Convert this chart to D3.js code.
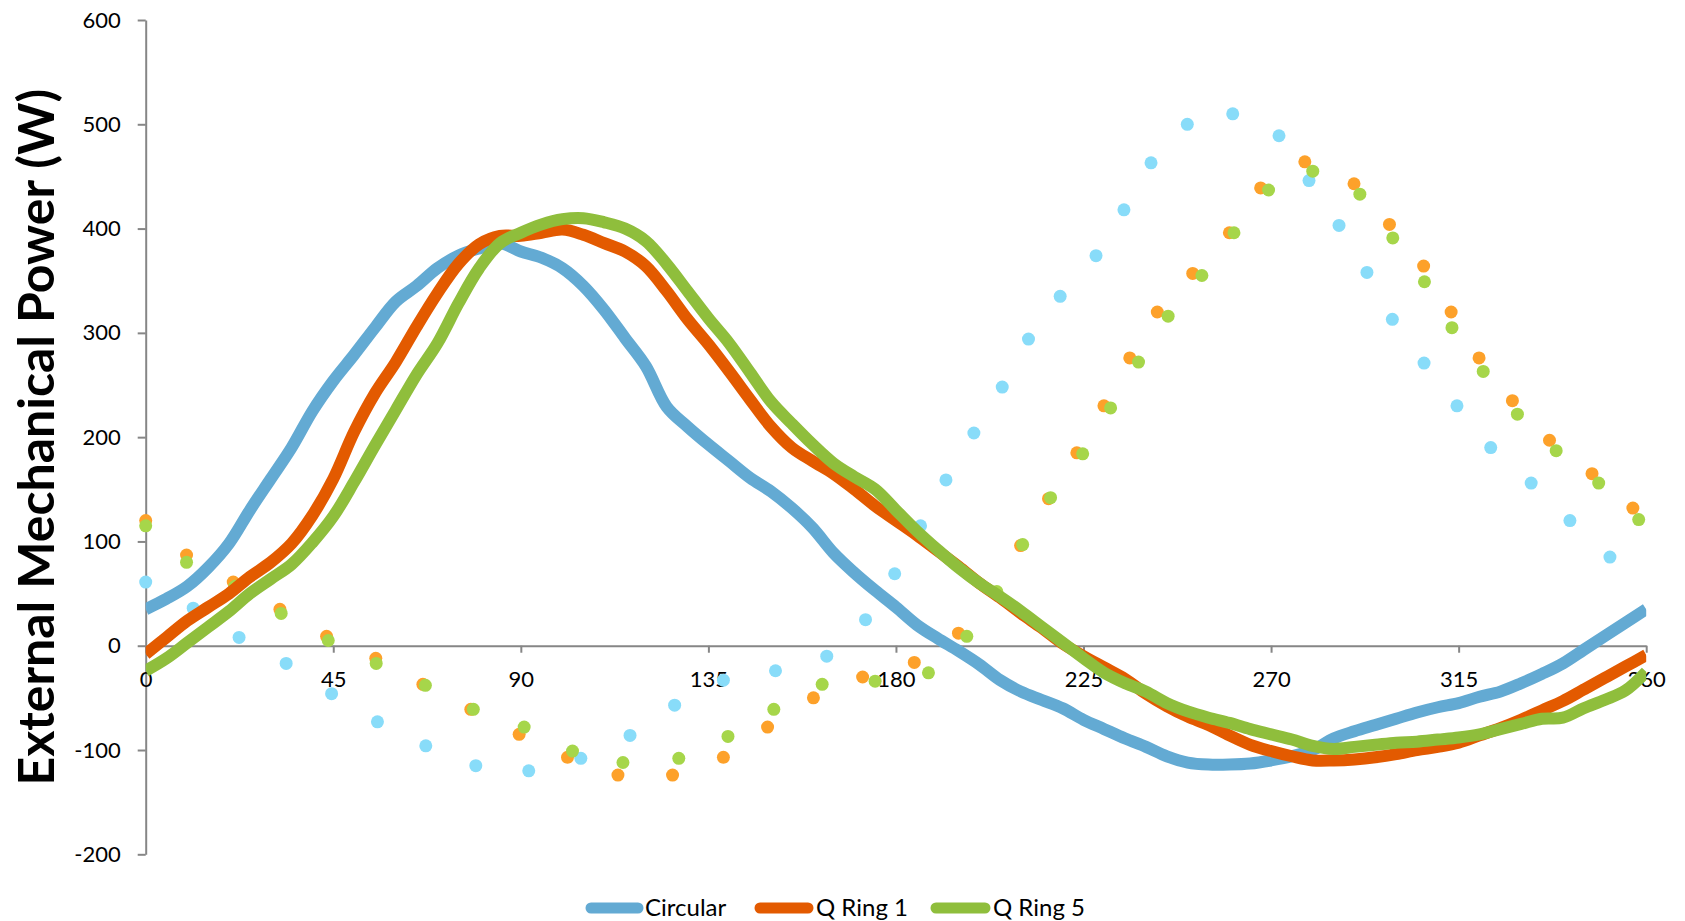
<!DOCTYPE html>
<html>
<head>
<meta charset="utf-8">
<script src="https://cdn.jsdelivr.net/npm/d3@7"></script>
<style>
  html, body { margin: 0; padding: 0; background: #fff; }
  svg { display: block; }
  text { font-family: Lato, "Noto Sans", sans-serif; fill: #000; }
</style>
</head>
<body>
<svg id="chart" width="1685" height="921"></svg>
<script>
// ---------- DATA ----------
const xTicks = [0, 45, 90, 135, 180, 225, 270, 315, 360];
const yTicks = [-200, -100, 0, 100, 200, 300, 400, 500, 600];

const lineAngles = [0,5,10,15,20,25,30,35,40,45,50,55,60,65,70,75,80,85,90,95,100,105,110,115,120,125,130,135,140,145,150,155,160,165,170,175,180,185,190,195,200,205,210,215,220,225,230,235,240,245,250,255,260,265,270,275,280,285,290,295,300,305,310,315,320,325,330,335,340,345,350,355,360];

const circular = [35,45,57,75,98,130,160,190,225,254,279,305,330,345,362,374,381,386,378,372,362,345,322,295,268,229,210,193,177,161,148,132,113,89,70,53,37,20,7,-5,-18,-33,-44,-52,-60,-71,-80,-89,-97,-106,-112,-114,-114,-113,-110,-106,-100,-89,-82,-76,-70,-64,-59,-55,-49,-44,-36,-27,-17,-4,9,22,35];

const qRing1 = [-8,8,24,37,50,66,80,98,125,160,205,242,272,306,338,366,385,393,393,396,399,394,386,378,364,340,313,289,263,236,210,190,177,165,150,134,120,106,91,76,60,46,31,17,2,-10,-21,-32,-46,-58,-68,-76,-86,-95,-101,-106,-110,-110,-109,-107,-104,-100,-97,-93,-86,-79,-71,-62,-53,-42,-31,-20,-9];

const qRing5 = [-24,-12,3,18,33,50,64,78,99,124,157,192,226,260,290,328,362,386,396,404,409,410,406,400,388,366,340,314,290,262,234,213,193,175,162,150,130,110,92,75,60,47,33,18,3,-12,-26,-36,-44,-55,-63,-69,-74,-80,-85,-90,-96,-99,-97,-95,-93,-92,-90,-88,-85,-80,-75,-70,-69,-60,-52,-43,-25];

// dotted (unlabelled) series
const circDotAngles = [0,11.4,22.4,33.7,44.6,55.6,67.2,79.2,91.9,104.4,116.2,126.9,138.6,151.1,163.4,172.7,179.7,185.9,192,198.7,205.5,211.8,219.4,228,234.7,241.2,249.9,260.8,271.9,279.1,286.3,293,299.1,306.7,314.6,322.7,332.4,341.7,351.3];
const circDotValues = [61,36,8,-17,-46,-73,-96,-115,-120,-108,-86,-57,-33,-24,-10,25,69,115,159,204,248,294,335,374,418,463,500,510,489,446,403,358,313,271,230,190,156,120,85];

const q1DotAngles = [0,9.8,21,32.2,43.4,55.2,66.5,78,89.6,101.2,113.3,126.4,138.6,149.2,160.2,172,184.4,195,209.9,216.6,223.4,229.9,236.1,242.7,251.2,260,267.5,278.1,289.9,298.4,306.6,313.2,319.9,327.9,336.8,347,356.8];
const q1DotValues = [120,87,61,35,9,-12,-37,-61,-85,-107,-124,-124,-107,-78,-50,-30,-16,12,96,141,185,230,276,320,357,396,439,464,443,404,364,320,276,235,197,165,132];

const q5DotAngles = [0,9.8,21.4,32.5,43.8,55.3,67.1,78.6,90.8,102.4,114.5,127.9,139.7,150.7,162.3,175,187.8,197,204.2,210.4,217.1,224.8,231.5,238.2,245.3,253.4,261.1,269.4,280,291.3,299.2,306.8,313.4,320.9,329.1,338.4,348.6,358.2];
const q5DotValues = [115,80,57,31,5,-17,-38,-61,-78,-101,-112,-108,-87,-61,-37,-34,-26,9,52,97,142,184,228,272,316,355,396,437,455,433,391,349,305,263,222,187,156,121];

const seriesNames = ["Circular", "Q Ring 1", "Q Ring 5"];

// ---------- LAYOUT ----------
const lineColors = ["#63AAD3", "#E35A00", "#8FBE3C"];
const dotColors = ["#88DCF9", "#FDA12A", "#A6D64A"];

const svg = d3.select("#chart");
const x = d3.scaleLinear().domain([0, 360]).range([145.7, 1646.2]);
const y = d3.scaleLinear().domain([-200, 600]).range([854.3, 20]);

svg.append("defs").append("clipPath").attr("id", "plotclip")
  .append("rect")
  .attr("x", x(0)).attr("y", 0)
  .attr("width", x(360) - x(0)).attr("height", 921);

// axes
const axisColor = "#868686";
const plainFmt = d => String(d);
const yAxis = svg.append("g")
  .attr("transform", `translate(${x(0)},0)`)
  .call(d3.axisLeft(y).tickValues(yTicks).tickFormat(plainFmt)
    .tickSize(8).tickSizeOuter(0).tickPadding(17));
const xAxis = svg.append("g")
  .attr("transform", `translate(0,${y(0)})`)
  .call(d3.axisBottom(x).tickValues(xTicks).tickFormat(plainFmt)
    .tickSize(7).tickSizeOuter(0).tickPadding(19));

[yAxis, xAxis].forEach(g => {
  g.select(".domain").attr("stroke", axisColor).attr("stroke-width", 2);
  g.selectAll(".tick line").attr("stroke", axisColor).attr("stroke-width", 2);
  g.selectAll(".tick text").style("font-family", "Lato, 'Noto Sans', sans-serif")
    .style("font-size", "22px").attr("fill", "#000");
});

// dots
const dotSets = [
  [circDotAngles, circDotValues],
  [q1DotAngles, q1DotValues],
  [q5DotAngles, q5DotValues]
];
dotSets.forEach((ds, i) => {
  const pts = ds[0].map((a, k) => [a, ds[1][k]]);
  svg.append("g").selectAll("circle").data(pts).enter().append("circle")
    .attr("cx", d => x(d[0])).attr("cy", d => y(d[1]))
    .attr("r", 6.5).attr("fill", dotColors[i]);
});

// lines
const lineSeries = [circular, qRing1, qRing5];
const lineGen = d3.line()
  .x(d => x(d[0])).y(d => y(d[1]))
  .curve(d3.curveCatmullRom.alpha(0.5));
const linesG = svg.append("g").attr("clip-path", "url(#plotclip)");
lineSeries.forEach((vals, i) => {
  const pts = lineAngles.map((a, k) => [a, vals[k]]);
  linesG.append("path").datum(pts)
    .attr("d", lineGen)
    .attr("fill", "none")
    .attr("stroke", lineColors[i])
    .attr("stroke-width", 12)
    .attr("stroke-linejoin", "round");
});

// y-axis title
svg.append("text")
  .attr("transform", `translate(54,${(y(600) + y(-200)) / 2}) rotate(-90)`)
  .attr("text-anchor", "middle")
  .style("font-size", "50px").style("font-weight", "bold")
  .text("External Mechanical Power (W)");

// legend
const legendX = [[591, 638, 645], [760, 808, 816], [936, 985, 993]];
const legY = 908;
const legend = svg.append("g");
seriesNames.forEach((name, i) => {
  legend.append("line")
    .attr("x1", legendX[i][0]).attr("x2", legendX[i][1])
    .attr("y1", legY).attr("y2", legY)
    .attr("stroke", lineColors[i]).attr("stroke-width", 11)
    .attr("stroke-linecap", "round");
  legend.append("text")
    .attr("x", legendX[i][2]).attr("y", legY + 8)
    .style("font-size", "24px")
    .text(name);
});
</script>
</body>
</html>
